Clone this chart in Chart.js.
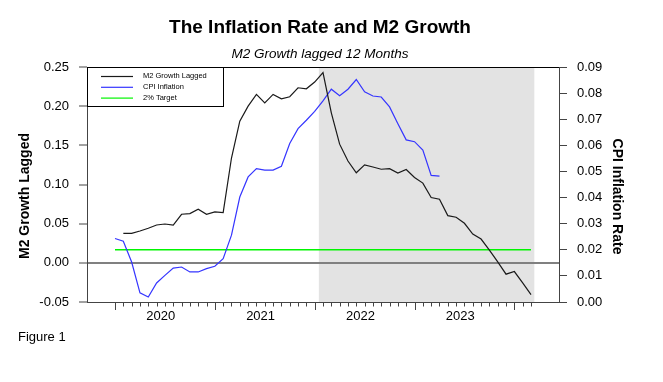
<!DOCTYPE html>
<html lang="en">
<head>
  <meta charset="UTF-8">
  <title>The Inflation Rate and M2 Growth</title>
  <script src="https://cdn.jsdelivr.net/npm/chart.js"></script>
  <style>
    body { margin: 0; background: #fff; }
    #wrap { width: 663px; height: 382px; }
  </style>
</head>
<body>
<div id="wrap"><canvas id="chart" width="663" height="382"></canvas></div>

<script>
  // x is a month index: 0 = Jan 2020
  const years = ['2020', '2021', '2022', '2023'];

  const m2Start = 1; // Feb 2020
  const m2Lagged = [
    0.0377, 0.0377, 0.0406, 0.0441, 0.0483, 0.0496, 0.0483, 0.0620, 0.0628, 0.0684, 0.0620, 0.0650, 0.0641,
    0.1338, 0.1808, 0.2000, 0.2150, 0.2043, 0.2150, 0.2094, 0.2120, 0.2235, 0.2222, 0.2308, 0.2428,
    0.1915, 0.1515, 0.1300, 0.1150, 0.1250, 0.1223, 0.1195, 0.1203, 0.1146, 0.1192, 0.1090, 0.1018,
    0.0833, 0.0812, 0.0603, 0.0582, 0.0505, 0.0368, 0.0304, 0.0163, 0.0013, -0.0145, -0.0111, -0.0256, -0.0406
  ];

  const cpiStart = 0; // Jan 2020
  const cpiInflation = [
    0.0243, 0.0233, 0.0153, 0.0035, 0.0019, 0.0073, 0.0102, 0.0130, 0.0134, 0.0115, 0.0115, 0.0128,
    0.0137, 0.0166, 0.0256, 0.0402, 0.0479, 0.0511, 0.0505, 0.0505, 0.0520, 0.0607, 0.0664, 0.0696,
    0.0730, 0.0770, 0.0815, 0.0790, 0.0815, 0.0852, 0.0805, 0.0789, 0.0785, 0.0747, 0.0683, 0.0621,
    0.0614, 0.0582, 0.0485, 0.0482
  ];

  const targetRate = 0.02;
  const targetSpan = [0, 50];
  const shadeSpan = [24.5, 50.4];
  const monthTicks = 50;

  const seriesColors = ['#1a1a1a', '#3535ff', '#00f500'];

  const fmt = v => (Math.abs(v) < 1e-9 ? 0 : v).toFixed(2);

  // shading, month ticks, frame, legend and the text around the plot
  const decor = {
    id: 'decor',
    beforeDraw(chart) {
      const { ctx, chartArea: a, scales: { x } } = chart;
      const x0 = x.getPixelForValue(shadeSpan[0]);
      const x1 = x.getPixelForValue(shadeSpan[1]);
      ctx.save();
      ctx.fillStyle = '#e3e3e3';
      ctx.fillRect(x0, a.top, x1 - x0, a.bottom - a.top);
      ctx.restore();
    },
    afterDraw(chart) {
      const { ctx, chartArea: a, scales: { x } } = chart;
      ctx.save();

      // month ticks below the axis
      ctx.strokeStyle = '#444';
      ctx.lineWidth = 1;
      for (let i = 0; i <= monthTicks; i++) {
        const px = Math.round(x.getPixelForValue(i)) + 0.5;
        ctx.beginPath();
        ctx.moveTo(px, a.bottom);
        ctx.lineTo(px, a.bottom + (i % 12 === 0 ? 8 : 4.5));
        ctx.stroke();
      }

      // top frame
      ctx.strokeStyle = '#000';
      ctx.beginPath();
      ctx.moveTo(a.left, a.top + 0.5);
      ctx.lineTo(a.right, a.top + 0.5);
      ctx.stroke();

      // legend box
      const lx = a.left, ly = a.top;
      ctx.fillStyle = '#fff';
      ctx.fillRect(lx, ly, 136, 39);
      ctx.strokeStyle = '#000';
      ctx.strokeRect(lx + 0.5, ly + 0.5, 136, 39);
      ctx.font = '7.5px "Liberation Sans", Arial, sans-serif';
      ctx.textBaseline = 'middle';
      ctx.textAlign = 'left';
      chart.data.datasets.forEach((ds, i) => {
        const yy = ly + 9.5 + i * 10.8;
        ctx.strokeStyle = ds.borderColor;
        ctx.lineWidth = 1.2;
        ctx.beginPath();
        ctx.moveTo(lx + 14, yy);
        ctx.lineTo(lx + 46, yy);
        ctx.stroke();
        ctx.fillStyle = '#000';
        ctx.fillText(ds.label, lx + 56, yy - 0.5);
      });

      // titles
      ctx.fillStyle = '#000';
      ctx.textAlign = 'center';
      ctx.textBaseline = 'alphabetic';
      ctx.font = 'bold 19px "Liberation Sans", Arial, sans-serif';
      ctx.fillText('The Inflation Rate and M2 Growth', 320, 33);
      ctx.font = 'italic 13.5px "Liberation Sans", Arial, sans-serif';
      ctx.fillText('M2 Growth lagged 12 Months', 320, 57.5);

      // axis titles
      ctx.font = 'bold 14px "Liberation Sans", Arial, sans-serif';
      ctx.textBaseline = 'middle';
      ctx.save();
      ctx.translate(25.5, 196);
      ctx.rotate(-Math.PI / 2);
      ctx.fillText('M2 Growth Lagged', 0, 0);
      ctx.restore();
      ctx.save();
      ctx.translate(616.5, 196.5);
      ctx.rotate(Math.PI / 2);
      ctx.fillText('CPI Inflation Rate', 0, 0);
      ctx.restore();

      ctx.textAlign = 'left';
      ctx.textBaseline = 'alphabetic';
      ctx.font = '13px "Liberation Sans", Arial, sans-serif';
      ctx.fillText('Figure 1', 18, 340.5);

      ctx.restore();
    }
  };

  const tickFont = { family: '"Liberation Sans", Arial, sans-serif', size: 13 };

  new Chart(document.getElementById('chart'), {
    type: 'line',
    data: {
      datasets: [
        {
          label: 'M2 Growth Lagged',
          data: m2Lagged.map((v, i) => ({ x: m2Start + i, y: v })),
          yAxisID: 'y',
          borderColor: seriesColors[0],
          borderWidth: 1.2,
          pointRadius: 0
        },
        {
          label: 'CPI Inflation',
          data: cpiInflation.map((v, i) => ({ x: cpiStart + i, y: v })),
          yAxisID: 'y1',
          borderColor: seriesColors[1],
          borderWidth: 1.2,
          pointRadius: 0
        },
        {
          label: '2% Target',
          data: targetSpan.map(m => ({ x: m, y: targetRate })),
          yAxisID: 'y1',
          borderColor: seriesColors[2],
          borderWidth: 1.5,
          pointRadius: 0
        }
      ]
    },
    options: {
      responsive: false,
      animation: false,
      layout: { padding: { top: 67, left: 0, right: 0, bottom: 0 } },
      plugins: {
        legend: { display: false },
        tooltip: { enabled: false }
      },
      scales: {
        x: {
          type: 'linear',
          min: -3.365,
          max: 53.365,
          afterFit(s) { s.height = 80; },
          afterBuildTicks(s) {
            s.ticks = years.map((_, i) => ({ value: i * 12 + 5.5 }));
          },
          ticks: {
            autoSkip: false,
            maxRotation: 0,
            padding: 7,
            color: '#000',
            font: tickFont,
            callback: v => years[Math.round((v - 5.5) / 12)]
          },
          grid: { drawOnChartArea: false, drawTicks: false },
          border: { color: '#444' }
        },
        y: {
          position: 'left',
          min: -0.05,
          max: 0.25,
          afterFit(s) { s.width = 87; },
          ticks: {
            stepSize: 0.05,
            padding: 10,
            color: '#000',
            font: tickFont,
            callback: fmt
          },
          grid: {
            color: c => (c.tick && Math.abs(c.tick.value) < 1e-9 ? '#808080' : 'rgba(0,0,0,0)'),
            lineWidth: 2,
            tickColor: '#444',
            tickWidth: 1,
            tickLength: 8
          },
          border: { color: '#444' }
        },
        y1: {
          position: 'right',
          min: 0,
          max: 0.09,
          afterFit(s) { s.width = 104; },
          ticks: {
            stepSize: 0.01,
            padding: 10,
            color: '#000',
            font: tickFont,
            callback: fmt
          },
          grid: { drawOnChartArea: false, tickColor: '#444', tickLength: 8 },
          border: { color: '#444' }
        }
      }
    },
    plugins: [decor]
  });
</script>
</body>
</html>
